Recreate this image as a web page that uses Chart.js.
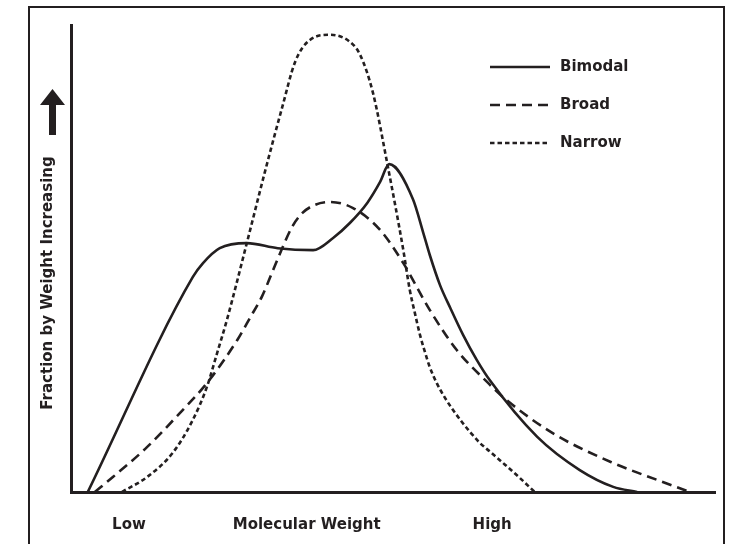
<!DOCTYPE html>
<html>
<head>
<meta charset="utf-8">
<script src="https://cdn.jsdelivr.net/npm/chart.js@4.4.1/dist/chart.umd.min.js"></script>
<style>
  html, body { margin: 0; padding: 0; background: #fff; overflow: hidden; }
  #wrap { position: relative; width: 732px; height: 544px; overflow: hidden; }
  #frame { position: absolute; left: 28px; top: 6px; width: 697px; height: 600px; border: 2px solid #231f20; box-sizing: border-box; }
  #chart { position: absolute; left: 0; top: 0; }
</style>
</head>
<body>
<div id="wrap">
  <div id="frame"></div>
  <canvas id="chart" width="732" height="544"></canvas>
</div>
<script>
// Series (x: position along molecular weight axis, y: relative fraction, both 0-100)
const bimodalX = [2.6, 18.9, 20.5, 23.1, 27.3, 32.1, 37.6, 40.7, 43.3, 46.0, 48.0, 49.4, 53.1, 54.7, 55.7, 57.3, 58.9, 60.9, 63.0, 65.1, 72.4, 79.0, 84.2, 87.9];
const bimodalY = [0, 46.0, 49.0, 52.2, 53.3, 52.2, 51.8, 54.4, 57.6, 61.9, 66.4, 70.2, 62.7, 55.5, 50.8, 44.3, 39.4, 33.6, 28.3, 23.8, 11.8, 4.7, 1.1, 0];

const broadX = [3.7, 6.5, 11.8, 16.9, 21.1, 25.8, 27.8, 29.7, 31.2, 32.8, 34.3, 35.9, 37.9, 40.2, 43.8, 48.0, 51.6, 55.7, 59.9, 64.8, 67.1, 74.8, 84.2, 91.0, 96.1];
const broadY = [0, 3.2, 9.6, 16.9, 23.3, 32.5, 37.3, 42.0, 46.9, 52.2, 56.7, 59.7, 61.5, 62.1, 60.8, 56.1, 49.0, 39.0, 30.4, 23.3, 20.3, 12.6, 6.2, 2.6, 0];

const narrowX = [7.9, 11.8, 15.8, 18.9, 21.1, 22.7, 24.2, 27.3, 30.1, 32.8, 34.8, 37.1, 40.2, 43.3, 44.9, 46.9, 49.1, 51.6, 52.6, 53.4, 54.2, 55.0, 55.7, 56.8, 58.1, 59.3, 60.7, 62.0, 63.5, 65.1, 67.1, 69.7, 72.0];
const narrowY = [0, 3.2, 8.4, 15.4, 22.5, 29.8, 36.8, 53.3, 68.5, 82.4, 92.1, 96.8, 97.9, 96.4, 93.6, 85.4, 70.4, 51.8, 43.3, 38.3, 33.6, 29.8, 26.8, 23.3, 20.1, 17.6, 15.0, 12.8, 10.5, 8.6, 6.2, 3.0, 0];

const seriesNames = ['Bimodal', 'Broad', 'Narrow'];

// x axis labels
const tickValues = [9.0, 36.6, 65.4];
const tickLabels = ['Low', 'Molecular Weight', 'High'];

const yTitle = 'Fraction by Weight Increasing';

const ink = '#231f20';
const font = '"DejaVu Sans", sans-serif';

function toPoints(xs, ys) {
    return xs.map((x, i) => ({ x: x, y: ys[i] }));
}

// Legend drawn at the upper right, line sample then label
const legendPlugin = {
    id: 'sideLegend',
    afterDraw(chart) {
        const ctx = chart.ctx;
        ctx.save();
        chart.data.datasets.forEach((ds, i) => {
            const y = 67 + i * 38;
            ctx.strokeStyle = ink;
            ctx.lineWidth = 2.5;
            ctx.setLineDash(ds.borderDash || []);
            ctx.beginPath();
            ctx.moveTo(490, y);
            ctx.lineTo(550, y);
            ctx.stroke();
            ctx.setLineDash([]);
            ctx.fillStyle = ink;
            ctx.font = 'bold 15px ' + font;
            ctx.textBaseline = 'middle';
            ctx.textAlign = 'left';
            ctx.fillText(ds.label, 560, y);
        });
        ctx.restore();
    }
};

// Rotated y title and the arrow above it
const yTitlePlugin = {
    id: 'yTitle',
    afterDraw(chart) {
        const ctx = chart.ctx;
        ctx.save();
        ctx.fillStyle = ink;
        // arrow
        ctx.beginPath();
        ctx.moveTo(52.5, 89);
        ctx.lineTo(65, 105);
        ctx.lineTo(56, 105);
        ctx.lineTo(56, 135);
        ctx.lineTo(49, 135);
        ctx.lineTo(49, 105);
        ctx.lineTo(40, 105);
        ctx.closePath();
        ctx.fill();
        // title
        ctx.translate(48, 283);
        ctx.rotate(-Math.PI / 2);
        ctx.font = 'bold 15px ' + font;
        ctx.textAlign = 'center';
        ctx.textBaseline = 'middle';
        ctx.fillText(yTitle, 0, 0);
        ctx.restore();
    }
};

const ctx = document.getElementById('chart').getContext('2d');
const chart = new Chart(ctx, {
    type: 'scatter',
    data: {
        datasets: [
            {
                label: seriesNames[0],
                data: toPoints(bimodalX, bimodalY),
                borderColor: ink,
                borderWidth: 2.6,
                borderDash: []
            },
            {
                label: seriesNames[1],
                data: toPoints(broadX, broadY),
                borderColor: ink,
                borderWidth: 2.6,
                borderDash: [10, 6]
            },
            {
                label: seriesNames[2],
                data: toPoints(narrowX, narrowY),
                borderColor: ink,
                borderWidth: 2.6,
                borderDash: [4.5, 3]
            }
        ]
    },
    options: {
        responsive: false,
        animation: false,
        showLine: true,
        layout: {
            padding: { left: 71, right: 17, top: 25, bottom: 0 }
        },
        elements: {
            point: { radius: 0, hoverRadius: 0 },
            line: { cubicInterpolationMode: 'monotone', fill: false }
        },
        plugins: {
            legend: { display: false },
            tooltip: { enabled: false }
        },
        scales: {
            x: {
                type: 'linear',
                min: 0,
                max: 100,
                grid: { display: false },
                border: { display: true, color: ink, width: 3 },
                afterBuildTicks: function(scale) {
                    scale.ticks = tickValues.map(v => ({ value: v }));
                },
                afterFit: function(scale) {
                    scale.height = 52;
                },
                ticks: {
                    autoSkip: false,
                    maxRotation: 0,
                    padding: 16,
                    color: ink,
                    font: { family: font, size: 15, weight: 'bold' },
                    callback: function(value, index) {
                        return tickLabels[index];
                    }
                }
            },
            y: {
                min: 0,
                max: 100,
                grid: { display: false },
                border: { display: true, color: ink, width: 3 },
                ticks: { display: false },
                afterFit: function(scale) {
                    scale.width = 0;
                }
            }
        }
    },
    plugins: [legendPlugin, yTitlePlugin]
});
</script>
</body>
</html>
